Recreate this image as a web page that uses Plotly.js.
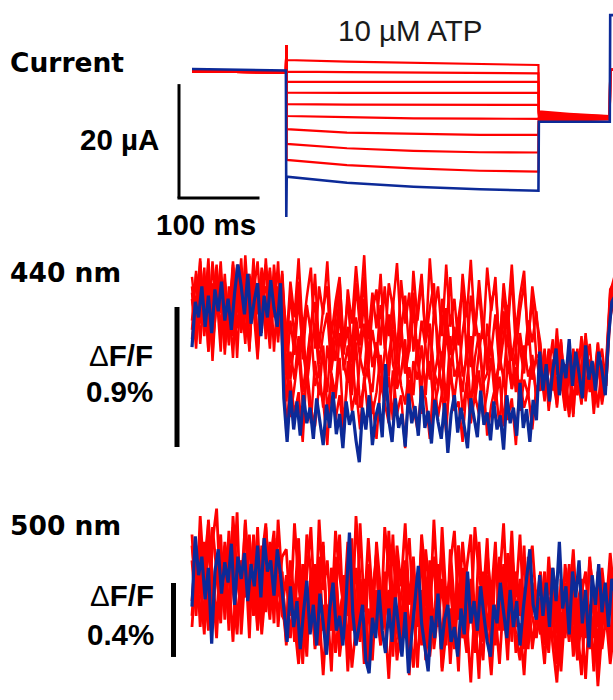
<!DOCTYPE html>
<html><head><meta charset="utf-8">
<script src="https://cdn.plot.ly/plotly-3.0.1.min.js"></script>
<style>html,body{margin:0;padding:0;background:#fff}#chart{width:613px;height:700px}</style>
</head><body><div id="chart"></div>
<script>
// ---------------- DATA ----------------
// Current traces: sample times (ms) and currents (µA)
const curT = [0, 114.5, 115, 115.5, 189, 270, 351, 422.5, 423, 460, 509.5, 510, 520];
const curBlue = [0.35, 0.09, -25.6, -18.54, -19.6, -20.3, -20.75, -21.0, -8.9, -8.9, -8.9, 9.8, 9.8];
const curRed1 = [-0.05, -0.26, 4.56, 1.93, 1.64, 1.4, 1.17, 1.05, -7.1, -7.5, -7.9, 0.2, 0.2];
const curRed2 = [-0.05, -0.26, 4.56, -0.12, -0.18, -0.3, -0.35, -0.4, -7.3, -7.65, -7.95, 0.2, 0.2];
const curRed3 = [-0.05, -0.26, 4.56, -1.9, -1.9, -1.9, -1.9, -1.9, -7.5, -7.8, -8.0, 0.2, 0.2];
const curRed4 = [-0.05, -0.26, 4.56, -3.8, -3.85, -3.85, -3.85, -3.85, -7.7, -7.95, -8.1, 0.2, 0.2];
const curRed5 = [-0.05, -0.26, 4.56, -5.8, -5.9, -5.95, -5.95, -5.95, -7.9, -8.1, -8.2, 0.2, 0.2];
const curRed6 = [-0.05, -0.26, 4.56, -7.9, -8.1, -8.3, -8.35, -8.4, -8.1, -8.2, -8.25, 0.2, 0.2];
const curRed7 = [-0.05, -0.26, 4.56, -10.2, -10.8, -11.05, -11.2, -11.2, -8.3, -8.35, -8.3, 0.2, 0.2];
const curRed8 = [-0.05, -0.26, 4.56, -12.8, -13.55, -14.0, -14.25, -14.3, -8.6, -8.5, -8.4, 0.2, 0.2];
const curRed9 = [-0.05, -0.26, 4.56, -15.6, -16.5, -17.1, -17.5, -17.65, -8.9, -8.65, -8.5, 0.2, 0.2];

// Fluorescence traces, ΔF/F in units of 0.01 %; blue sampled every 4 ms, red every 5 ms, from t = 0
const f440Blue = [-27, 2, -8, 12, -14, 6, -18, 10, -4, 15, -10, 4, -16, 8, 26, 12, -6, 20, -12, 3, 14, -20, 6, -8, 16, -2, -14, 14,
  -60,
  -88, -55, -80, -62, -84, -58, -76, -66, -86, -60, -74, -90, -64, -79, -56, -83, -70, -92, -62, -77,
  -68, -87, -101, -66, -80, -58, -90, -72, -63, -85, -38, -74, -88, -60, -79, -70, -91, -57, -76, -65,
  -84, -52, -79, -68, -89, -61, -75, -86, -63, -95, -70, -58, -82, -66, -78, -92, -60, -73, -85, -55,
  -77, -69, -87, -62, -80, -71, -93, -58, -76, -66, -84, -50, -79, -67, -88, -61, -74,
  -30, -55, -38, -62, -42, -28, -58, -35, -47, -22, -52, -30, -44, -60, -26, -48, -36, -55, -30, -42,
  -58, -20, 2, 6];
const f440Red1 = [12, -18, 25, -5, 30, -22, 8, -30, 15, -8, 28, -15, 5, -25, 20, -2, -35, 10, 26, -12, 18, -20, 22,
  -25, 15, -8, 30, -18, 5, 24, -28, 12, -6, 28, -20, 2, 18, -32, 10, -12, 25, -5, 32, -22, 8, -15, 20, -28, 14, -2, 27, -18, 6,
  -30, 22, -10, 16, -24, 30, -6, 12, -20, 26, -14, 4, -26, 20, -8, 29, -16, 10, -22, 24, -4, 18, -30, 14, -10, 26, -18, 6, 22, -26, 12, -8,
  -25, -60, -30, -50, -15, -55, -38, -70, -28, -48, -20, -62, -35, -52, -25, -58, -40, 5, 12];
const f440Red2 = [-10, 20, -25, 8, -15, 28, -5, 18, -28, 5, -20, 24, -8, 14, -30, 22, 2, -18, 30, -10, 6, -24, 16,
  -30, 8, -22, 15, -35, 0, -18, 20, -28, -2, 12, -38, -8, 16, -25, 5, -32, 14, -15, 18, -36, -4, 10, -26, 12, -20, 2, -34, 16, -12,
  8, -30, -6, 20, -24, -2, 14, -36, 4, -16, 18, -28, -8, 10, -32, 6, -20, 16, -14, -38, 2, 12, -26, 8, -18, 20, -30, -4, 14, -22, 4, -34,
  -50, -28, -65, -35, -45, -22, -58, -40, -72, -30, -52, -18, -48, -60, -32, -55, -38, 10, 15];
const f440Red3 = [18, -8, 30, -20, 10, -32, 22, -5, 14, -26, 26, 0, -16, 32, -10, 20, -24, 8, -6, 24, -30, 12, -2,
  -45, -10, -32, 5, -28, -48, -12, 2, -38, -18, -5, -42, -22, 6, -30, -14, -50, -8, -26, 4, -40, -16, -34, 0, -24, -46, -6, -30, -12, -44,
  -20, 8, -36, -10, -28, -48, -4, -22, -38, -2, -32, -14, -46, -18, 2, -40, -8, -26, -50, -12, -30, -6, -42, -20, 0, -36, -16, -28, -44, -10, -24, -4,
  -40, -62, -30, -55, -20, -48, -68, -35, -50, -28, -60, -42, -25, -56, -34, -64, -45, 8, 18];
const f440Red4 = [-22, 6, -12, 24, -30, 14, -4, 28, -18, 2, -34, 16, -8, 22, -14, 30, -26, 4, 12, -20, 26, -6, 10,
  -15, -48, -22, -38, -8, -52, -28, -12, -44, -32, -56, -20, -36, -4, -42, -26, -58, -14, -34, -46, -10, -40, -24, -54, -30, -6, -38, -50, -18, -44,
  -28, -2, -36, -52, -22, -12, -48, -32, -58, -16, -40, -26, -8, -46, -34, -20, -54, -30, -12, -42, -24, -50, -36, -4, -44, -28, -56, -18, -38, -10, -48, -32,
  -35, -58, -42, -22, -66, -38, -50, -30, -62, -44, -26, -54, -36, -70, -40, -28, -52, 0, 14];
const f440Red5 = [4, -28, 16, -10, 26, -36, 8, -16, 20, -24, 12, -4, 30, -20, -2, 18, -32, 6, -14, 22, -8, 28, -26,
  -62, -30, -48, -20, -56, -36, -14, -52, -42, -66, -26, -44, -58, -18, -38, -50, -28, -64, -34, -12, -46, -56, -24, -40, -60, -32, -16, -54, -44, -22,
  -68, -36, -48, -26, -58, -14, -42, -52, -30, -62, -20, -46, -38, -56, -28, -66, -34, -18, -50, -44, -24, -60, -32, -48, -16, -54, -40, -64, -26, -46, -36, -58,
  -48, -30, -60, -38, -52, -24, -66, -44, -34, -58, -40, -20, -54, -46, -30, -62, -48, 2, 10];
const f440Red6 = [-16, 22, -6, 14, -30, 2, 26, -20, 10, -10, 24, -34, 18, -2, -24, 8, 28, -14, 4, -28, 16, -4, 20,
  -40, -72, -52, -30, -64, -46, -76, -36, -58, -26, -68, -48, -60, -34, -78, -44, -54, -24, -66, -50, -38, -70, -56, -32, -62, -46, -74, -28, -52, -64,
  -40, -58, -22, -70, -48, -36, -66, -54, -30, -76, -44, -60, -38, -68, -50, -26, -62, -42, -72, -56, -34, -64, -46, -78, -36, -54, -28, -68, -48, -58, -32, -62,
  -38, -56, -28, -48, -64, -34, -52, -42, -70, -30, -46, -58, -36, -50, -24, -60, -44, -5, 8];
const f440Red7 = [8, -22, 28, -12, 18, -26, 0, 22, -32, 12, -8, 26, -18, 6, -28, 16, -6, 24, -22, 2, 14, -16, 6,
  -82, -48, -70, -56, -88, -40, -66, -78, -52, -62, -90, -44, -74, -58, -84, -36, -68, -54, -80, -46, -72, -62, -86, -50, -64, -76, -42, -70, -58, -92,
  -48, -66, -80, -54, -60, -86, -44, -72, -56, -82, -38, -68, -62, -88, -50, -76, -58, -70, -46, -84, -64, -52, -78, -42, -74, -60, -90, -48, -66, -56, -80, -52,
  -55, -32, -68, -44, -58, -26, -50, -72, -38, -46, -64, -30, -56, -42, -66, -36, -52, -8, 4];

const f500Blue = [-9, 29, 8, 18, -5, 12, -29, 10, 22, -2, 15, 4, 25, -8, 18, 6, 20, -6, 14, 2, 24, -4, 28, 10, 16, -3, 22, 8,
  -10, -28, 2, -20, -6, -32, -12, 5, -24, -8, -30, -2, -18, -35, -10, 4, -22, -14, -30, -5, 31,
  -12, -30, -20, -8, -38, -45, -15, -26, 0, -22, -34, -10, -28, -4, -20, -36, -12, -45, -24, -6,
  13, -18, -30, -44, -14, -26, -2, -32, -16, -8, -28, -20, -36, -10, -24, 10, -18,
  -6, -22, 2, -14, -28, -36, -8, -18, 4, -12, -26, 0, -20, -6, -30, -10, 6, 22, -8, -16,
  8, -14, 4, -20, 12, -6, 26, -10, 2, -24, 10, -4, 16, -18, 0, -31, 8, -8, 14, -12, 4, -20, 6, -2];
const f500Red1 = [30, -10, 40, 5, -18, 26, 44, -4, 20, -22, 34, 10, -14, 38, 2, 24, -20, 16, 36, -8, 28, -2, 18,
  22, -14, 36, 4, -20, 30, 10, -24, 38, 0, 16, -18, 32, 8, -10, 26, -22, 40, 6, -12, 28, -4, 20, -26, 34, 12, -16, 24, 2, 36,
  -8, 18, -20, 30, 6, -14, 38, -2, 22, -24, 14, 32, -10, 26, 0, -18, 34, 8, -6, 28, -22, 16, 4, 36, -12, 20, -4, 30, -16, 10, 24, -8,
  10, -24, 18, -12, 2, -30, 14, -6, 22, -18, 6, -26, 16, -2, -20, 12, -10, 20, -4];
const f500Red2 = [-6, 24, -20, 14, 36, -12, 8, 30, -16, 20, -2, 42, -24, 12, 28, -8, 34, -14, 6, 22, -18, 38, 4,
  -20, 16, -6, 28, -26, 8, 34, -14, 2, 24, -30, 12, -4, 30, -18, 6, 20, -28, 36, -10, 14, -22, 26, 0, -16, 32, -8, 18, -24, 10,
  28, -12, 4, -30, 22, -2, 16, -20, 34, -6, 8, -26, 24, -14, 12, 30, -18, 2, -28, 20, -4, 26, -22, 14, -10, 32, -16, 6, -24, 18, 0, -12,
  -20, 6, -30, 12, -8, -36, 4, -16, 16, -26, -2, 10, -22, 0, -34, 8, -14, 14, -28];
const f500Red3 = [16, -14, 28, 2, -22, 34, 10, -6, 24, -18, 40, 6, -10, 18, -26, 30, 0, 22, -12, 14, 32, -20, 10,
  -30, 6, -18, 22, -8, -36, 12, -20, 2, 26, -26, -4, 18, -32, 8, -14, 28, -24, 0, -40, 14, -10, 20, -28, 4, -16, 30, -22, -2, 16,
  -34, 10, -12, 24, -38, -6, 18, -20, 6, -30, 22, -8, -44, 12, -16, 2, -26, 26, -12, 8, -34, 16, -4, -22, 20, -28, 10, -14, 24, -32, 4, -18,
  -12, 10, -26, -4, -38, 6, -18, 14, -30, -8, 4, -24, 18, -14, -42, 2, -20, 8, -10];
const f500Red4 = [-14, 20, 4, -24, 30, -6, 14, -18, 26, 8, -28, 18, 2, 36, -12, 10, -22, 24, 6, -16, 16, 0, -10,
  8, -26, -2, -38, 14, -16, 4, -30, 18, -22, -8, -44, 10, -18, 2, -34, 22, -12, -28, 6, -40, -4, 16, -24, -14, 0, -36, 12, -20, -6,
  -46, 8, -10, 20, -30, -2, -18, 14, -42, -8, 4, -26, 24, -16, -34, 6, -12, -48, 10, -22, 0, -30, 18, -6, -38, 12, -20, -2, -32, 8, -14, -26,
  -4, -30, 8, -16, -40, 0, -22, 12, -12, -36, 4, -20, -8, -44, 10, -18, -2, -30, 6];
const f500Red5 = [24, -4, 12, -20, 38, 6, -16, 20, -8, 32, 0, -24, 16, 8, -12, 28, -2, -20, 34, 4, -6, 20, -14,
  -18, 6, -28, -4, -40, 2, -14, 14, -30, -8, -22, 8, -34, -12, 0, -44, -6, 12, -24, -16, -36, 4, -10, -30, 10, -20, -4, -38, -14, 6,
  -26, -8, -42, 0, -18, 16, -32, -12, -24, 2, -40, -6, -16, 8, -28, -2, -34, -14, 4, -22, -46, -8, -18, 10, -30, -4, -24, -38, -10, 0, -32, -14,
  -24, -6, -34, 4, -18, -44, -10, -28, 2, -38, -16, -48, -8, -26, 6, -32, -14, -40, -20];
const f500Red6 = [-20, 14, -2, 26, -12, 4, -26, 18, 10, -8, 22, -18, 6, -4, 30, -14, 12, -24, 2, 26, -10, 8, -6,
  -28, -2, -18, -40, -6, -24, 4, -32, -12, -46, -8, -22, 2, -36, -16, -4, -42, -20, 6, -30, -10, -38, 0, -26, -14, -48, -4, -22, -34, 2,
  -18, -42, -8, -28, 4, -36, -14, -2, -44, -22, -10, -32, 0, -26, -16, -50, -6, -20, -38, 6, -30, -12, -40, -4, -24, 2, -34, -18, -46, -8, -28, -16,
  -18, -40, -4, -30, -50, -12, -26, 0, -36, -20, -46, -8, -32, -14, -52, -22, 2, -34, -16];

// Labels
const panelLabels = ['Current', '440 nm', '500 nm'];
const stimLabel = '10 µM ATP';
const curScaleLabels = ['20 µA', '100 ms'];
const dffScaleLabels = ['0.9%', '0.4%'];

// ---------------- LAYOUT CONSTANTS ----------------
const W = 613, H = 700;
const RED = '#ff0000', BLUE = '#0c2a98';
const PX_PER_MS = 0.82, X_ORIGIN = 192;             // pixel of t = 0
const tAt = x => (x - X_ORIGIN) / PX_PER_MS;
const px = x => x / W, py = y => 1 - y / H;
const CUR = {top: 0, bot: 230, zero: 71, k: 5.7};
const F440 = {top: 240, bot: 470, zero: 305, k: 1.556};
const F500 = {top: 490, bot: 700, zero: 590, k: 1.85};
const rng = p => [(p.zero - p.bot) / p.k, (p.zero - p.top) / p.k];
const dom = p => [py(p.bot), py(p.top)];

const traces = [];
const curReds = [curRed1, curRed2, curRed3, curRed4, curRed5, curRed6, curRed7, curRed8, curRed9];
curReds.forEach(r => traces.push({x: curT, y: r, mode: 'lines', line: {color: RED, width: 2.2}, yaxis: 'y', hoverinfo: 'skip'}));
traces.push({x: curT, y: curBlue, mode: 'lines', line: {color: BLUE, width: 2.6}, yaxis: 'y', hoverinfo: 'skip'});

[f440Red1, f440Red2, f440Red3, f440Red4, f440Red5, f440Red6, f440Red7].forEach(r =>
  traces.push({x0: 0, dx: 5, y: r, mode: 'lines', line: {color: RED, width: 2.5}, yaxis: 'y2', hoverinfo: 'skip'}));
traces.push({x0: 0, dx: 4, y: f440Blue, mode: 'lines', line: {color: BLUE, width: 3.2}, yaxis: 'y2', hoverinfo: 'skip'});

[f500Red1, f500Red2, f500Red3, f500Red4, f500Red5, f500Red6].forEach(r =>
  traces.push({x0: 0, dx: 5, y: r, mode: 'lines', line: {color: RED, width: 2.8}, yaxis: 'y3', hoverinfo: 'skip'}));
traces.push({x0: 0, dx: 4, y: f500Blue, mode: 'lines', line: {color: BLUE, width: 3.2}, yaxis: 'y3', hoverinfo: 'skip'});

const hidden = {visible: false, fixedrange: true};
const bold = {family: 'Liberation Sans, Arial, sans-serif', size: 29.5, color: '#000', weight: 'bold'};
const head = {family: 'DejaVu Sans, sans-serif', size: 26.5, color: '#000', weight: 'bold'};
const ann = (text, x, y, xa, font) => ({text, x: px(x), y: py(y), xref: 'paper', yref: 'paper',
  xanchor: xa, yanchor: 'middle', showarrow: false, font});

const layout = {
  width: W, height: H, margin: {l: 0, r: 0, t: 0, b: 0},
  paper_bgcolor: '#fff', plot_bgcolor: 'rgba(0,0,0,0)', showlegend: false,
  xaxis: Object.assign({range: [tAt(0), tAt(W)], domain: [0, 1]}, hidden),
  yaxis: Object.assign({range: rng(CUR), domain: dom(CUR)}, hidden),
  yaxis2: Object.assign({range: rng(F440), domain: dom(F440), anchor: 'x'}, hidden),
  yaxis3: Object.assign({range: rng(F500), domain: dom(F500), anchor: 'x'}, hidden),
  shapes: [
    {type: 'line', xref: 'x', yref: 'y', x0: tAt(179), x1: tAt(179), y0: -2.3, y1: -22.3, line: {color: '#000', width: 3}},
    {type: 'line', xref: 'x', yref: 'y', x0: tAt(177.5), x1: tAt(177.5) + 100, y0: -22.3, y1: -22.3, line: {color: '#000', width: 3}},
    {type: 'line', xref: 'x', yref: 'y2', x0: tAt(177), x1: tAt(177), y0: -1.3, y1: -91.3, line: {color: '#000', width: 5}},
    {type: 'line', xref: 'x', yref: 'y3', x0: tAt(173.5), x1: tAt(173.5), y0: 3.8, y1: -36.2, line: {color: '#000', width: 5}}
  ],
  annotations: [
    ann(panelLabels[0], 8, 63, 'left', head),
    ann(panelLabels[1], 8, 272, 'left', head),
    ann(panelLabels[2], 8, 525, 'left', head),
    ann(stimLabel, 410, 31, 'center', {family: 'Liberation Sans, Arial, sans-serif', size: 29.5, color: '#1a1a1a'}),
    ann(curScaleLabels[0], 161, 140, 'right', bold),
    ann(curScaleLabels[1], 206, 224, 'center', bold),
    ann('Δ<b>F/F</b>', 155, 355, 'right', Object.assign({}, bold, {weight: 'normal'})),
    ann(dffScaleLabels[0], 155, 391, 'right', bold),
    ann('Δ<b>F/F</b>', 156, 595, 'right', Object.assign({}, bold, {weight: 'normal'})),
    ann(dffScaleLabels[1], 156, 634, 'right', bold)
  ]
};
Plotly.newPlot('chart', traces, layout, {staticPlot: true, displayModeBar: false});
</script></body></html>
